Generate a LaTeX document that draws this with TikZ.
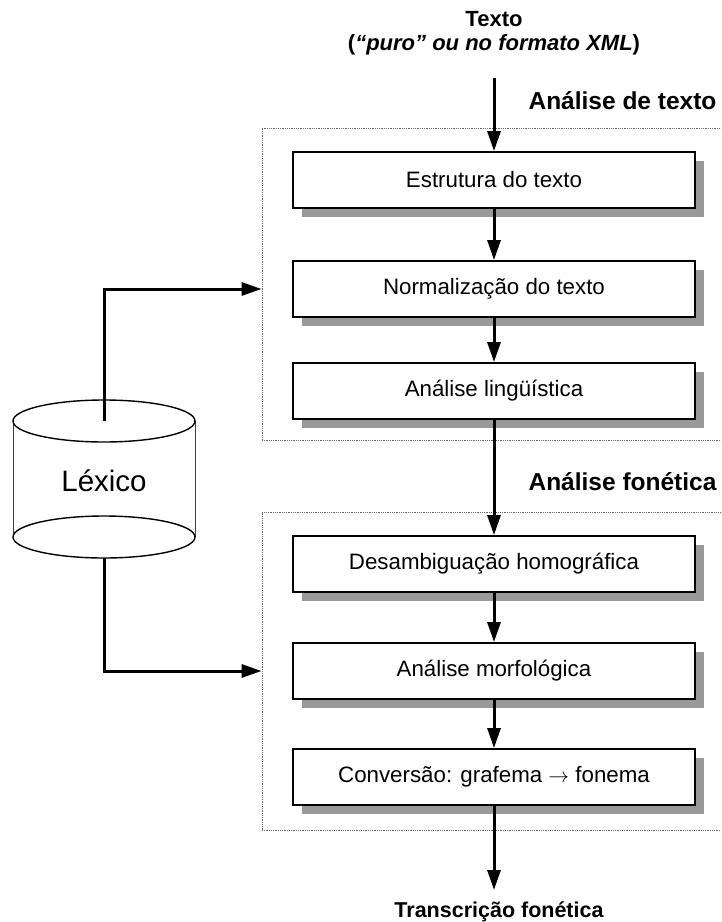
\documentclass[tikz,border=0pt]{standalone}
\usepackage{fontspec}
\setmainfont{Liberation Sans}
\usetikzlibrary{arrows.meta,shadows}
\begin{document}
\begin{tikzpicture}[x=1pt,y=-1pt,
  stepbox/.style={draw, line width=1.8pt, fill=white, minimum width=402pt,
    minimum height=56pt, inner sep=0pt,
    font=\fontsize{22.3pt}{26pt}\selectfont,
    drop shadow={shadow xshift=9pt, shadow yshift=-9pt, fill=black!40, opacity=1}},
  flow/.style={line width=3pt, -{Triangle[length=20pt,width=13pt]}},
  groupframe/.style={draw=black!60, densely dotted, line width=0.8pt, inner sep=0pt},
  header/.style={font=\bfseries\fontsize{24.5pt}{28pt}\selectfont, anchor=base east},
  endlabel/.style={font=\bfseries\fontsize{21.5pt}{25pt}\selectfont},
]
\useasboundingbox (0,0) rectangle (721,922);
\clip (0,0) rectangle (721,922);

% dotted stage frames (right side runs past the page edge)
\node[groupframe, minimum width=468pt, minimum height=312pt] (grpText) at (496,284) {};
\node[groupframe, minimum width=468pt, minimum height=318pt] (grpFon) at (496,671) {};

% stage headers
\node[header] (hText) at (720,109) {Análise de texto};
\node[header] (hFon) at (720,490) {Análise fonética};

% input and output labels
\node[font=\bfseries\fontsize{22pt}{24pt}\selectfont, align=center] (title) at (494,33)
  {Texto\\(\textit{“puro” ou no formato XML})};
\coordinate (inTop) at (494,78);
\coordinate (outTip) at (494,890);
\node[endlabel, anchor=base] (out) at (499,917) {Transcrição fonética};

% processing steps
\node[stepbox] (b1) at (494,180) {Estrutura do texto};
\node[stepbox] (b2) at (494,289) {Normalização do texto};
\node[stepbox] (b3) at (494,391) {Análise lingüística};
\node[stepbox] (b4) at (494,564) {Desambiguação homográfica};
\node[stepbox] (b5) at (494,671) {Análise morfológica};
\node[stepbox] (b6) at (494,777) {Conversão: grafema $\rightarrow$ fonema};

% main flow
\draw[flow] (inTop) -- (b1);
\draw[flow] (b1) -- (b2);
\draw[flow] (b2) -- (b3);
\draw[flow] (b3) -- (b4);
\draw[flow] (b4) -- (b5);
\draw[flow] (b5) -- (b6);
\draw[flow] (b6) -- (outTip);

% lexicon cylinder
\draw[black!75, line width=0.7pt] (13,421) -- (13,537) (195,421) -- (195,537);
\draw[line width=1.4pt] (104,421) ellipse [x radius=91pt, y radius=21pt];
\draw[line width=1.4pt] (104,537) ellipse [x radius=91pt, y radius=21pt];
\node (lexico) at (104,481) {\fontsize{29.5pt}{32pt}\selectfont Léxico};
\coordinate (lexTop) at (104,421);
\coordinate (lexBot) at (104,558);

% lexicon feeds both stages
\draw[flow] (lexTop) |- (grpText.west |- b2.center);
\draw[flow] (lexBot) |- (grpFon.west |- b5.center);
\end{tikzpicture}
\end{document}
